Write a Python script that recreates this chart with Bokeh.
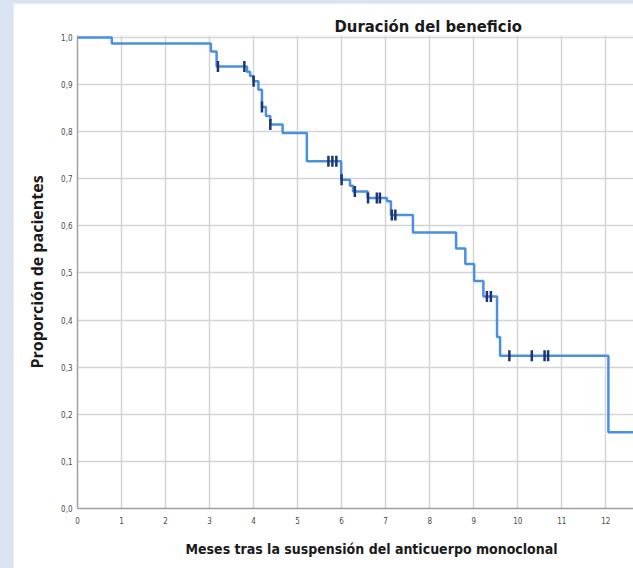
from bokeh.plotting import figure
from bokeh.models import Range1d, FixedTicker, CustomJSTickFormatter, Title, GlobalInlineStyleSheet
from bokeh.embed import file_html
from bokeh.resources import INLINE
import math

title_text = "Duración del beneficio"
x_label = "Meses tras la suspensión del anticuerpo monoclonal"
y_label = "Proporción de pacientes"

# Kaplan-Meier steps (months, survival after the event)
event_times = [0.78, 3.03, 3.16, 3.85, 3.92, 4.00, 4.11, 4.19, 4.28, 4.38, 4.66,
               5.21, 5.99, 6.19, 6.26, 6.59, 7.03, 7.12, 7.62, 8.60, 8.81, 9.01,
               9.22, 9.53, 9.60, 12.06]
survival = [0.987, 0.970, 0.938, 0.927, 0.918, 0.907, 0.889, 0.852, 0.833, 0.815, 0.797,
            0.737, 0.698, 0.685, 0.673, 0.659, 0.652, 0.623, 0.586, 0.552, 0.519, 0.483,
            0.450, 0.364, 0.324, 0.162]
# censored observations (months)
censor_times = [3.19, 3.79, 4.00, 4.19, 4.38, 5.70, 5.79, 5.88, 6.00, 6.30, 6.60,
                6.80, 6.87, 7.14, 7.22, 9.30, 9.39, 9.81, 10.32, 10.61, 10.69]

x_ticks = list(range(0, 13))
y_ticks = [0.0, 0.1, 0.2, 0.3, 0.4, 0.5, 0.6, 0.7, 0.8, 0.9, 1.0]
x_max = 12.63


def surv_at(t):
    s = 1.0
    for et, sv in zip(event_times, survival):
        if et <= t:
            s = sv
    return s


censor_surv = [surv_at(t) for t in censor_times]
step_x = [0.0] + event_times + [x_max]
step_y = [1.0] + survival + [survival[-1]]

NARROW = "'Liberation Sans Narrow', 'DejaVu Sans Condensed', 'Open Sans'"

page_css = GlobalInlineStyleSheet(css="html, body { margin: 0; padding: 0; background: #dce4f4; } "
                                      "body { padding: 3px 0 0 13px; }")

p = figure(width=620, height=565, x_range=Range1d(0, x_max), y_range=Range1d(0, 1.004),
           output_backend="svg", toolbar_location=None,
           min_border_left=64, min_border_right=0, min_border_top=32, min_border_bottom=60)
p.stylesheets = [page_css]
p.outline_line_color = None
p.background_fill_color = "white"
p.border_fill_color = "white"

p.title.text = title_text
p.title.align = "left"
p.title.offset = 257
p.title.text_font = NARROW
p.title.text_font_size = "16.5px"
p.title.text_font_style = "bold"
p.title.text_color = "#1a1a1a"
p.title.standoff = 0

p.add_layout(Title(text=x_label, align="left", offset=108, text_font=NARROW,
                   text_font_size="14px", text_font_style="bold", text_color="#1a1a1a",
                   standoff=24), "below")

for ax in (p.xaxis[0], p.yaxis[0]):
    ax.axis_line_color = "#a0a0a0"
    ax.axis_line_width = 1.5
    ax.major_tick_out = 0
    ax.major_tick_in = 0
    ax.minor_tick_out = 0
    ax.minor_tick_in = 0
    ax.major_label_text_font = NARROW
    ax.major_label_text_font_size = "8px"
    ax.major_label_text_color = "#4a4a4a"

p.xaxis.ticker = FixedTicker(ticks=x_ticks)
p.yaxis.ticker = FixedTicker(ticks=y_ticks)
p.yaxis.formatter = CustomJSTickFormatter(code="return tick.toFixed(1).replace('.', ',');")
p.xaxis.major_label_standoff = 8
p.yaxis.major_label_standoff = 5

p.yaxis.axis_label = y_label
p.yaxis.axis_label_text_font = "Open Sans"
p.yaxis.axis_label_text_font_size = "16px"
p.yaxis.axis_label_text_font_style = "bold"
p.yaxis.axis_label_text_color = "#1a1a1a"
p.yaxis.axis_label_standoff = 10

p.xgrid.grid_line_color = "#d4d4d4"
p.ygrid.grid_line_color = "#d4d4d4"
p.xgrid.grid_line_width = 1.5
p.ygrid.grid_line_width = 1.5

p.step(step_x, step_y, mode="after", line_color="#4a8fe0", line_width=2.5)
p.scatter(censor_times, censor_surv, marker="dash", angle=math.pi / 2, size=11,
          line_color="#1a3570", line_width=2.5)

open("out.html", "w").write(file_html(p, INLINE))
